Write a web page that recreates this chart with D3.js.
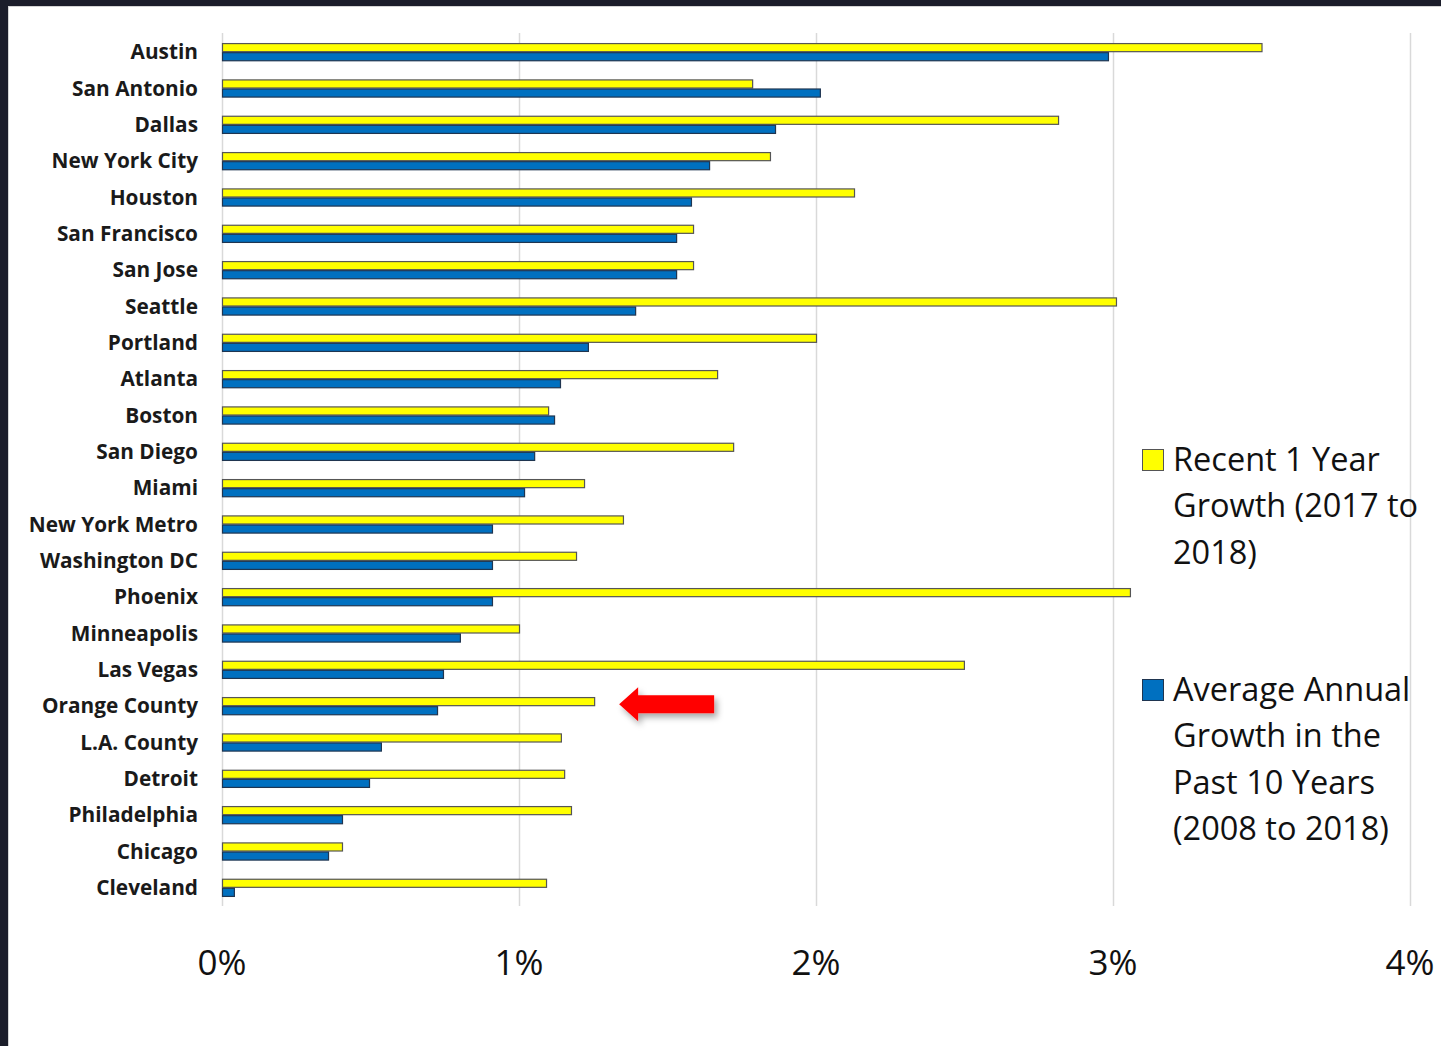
<!DOCTYPE html>
<html><head><meta charset="utf-8">
<script src="https://cdn.jsdelivr.net/npm/d3@7"></script>
<style>html,body{margin:0;padding:0;background:#fff;}svg{display:block;}</style>
</head><body>
<svg id="chart" width="1441" height="1046"></svg>
<script>
const categories = ["Austin","San Antonio","Dallas","New York City","Houston","San Francisco","San Jose","Seattle","Portland","Atlanta","Boston","San Diego","Miami","New York Metro","Washington DC","Phoenix","Minneapolis","Las Vegas","Orange County","L.A. County","Detroit","Philadelphia","Chicago","Cleveland"];
const recentGrowth = [3.50,1.785,2.815,1.845,2.128,1.586,1.586,3.010,2.000,1.667,1.098,1.721,1.219,1.350,1.192,3.057,1.000,2.498,1.253,1.141,1.152,1.175,0.404,1.091];
const avgGrowth = [2.983,2.013,1.862,1.640,1.579,1.529,1.529,1.391,1.232,1.138,1.118,1.051,1.017,0.909,0.909,0.909,0.801,0.744,0.724,0.535,0.495,0.404,0.357,0.040];
const seriesNames = ["Recent 1 Year Growth (2017 to 2018)","Average Annual Growth in the Past 10 Years (2008 to 2018)"];
const legendLines = [["Recent 1 Year","Growth (2017 to","2018)"],["Average Annual","Growth in the","Past 10 Years","(2008 to 2018)"]];
const tickValues = [0,1,2,3,4];
const highlight = "Orange County";

const svg = d3.select("#chart");
// frame
svg.append("rect").attr("x",0).attr("y",0).attr("width",1441).attr("height",1046).attr("fill","#1b1d2a");
svg.append("rect").attr("x",8).attr("y",6).attr("width",1433).attr("height",1040).attr("fill","#d4d4d4");
svg.append("rect").attr("x",9).attr("y",7).attr("width",1432).attr("height",1039).attr("fill","#fff");

const x = d3.scaleLinear().domain([0,4]).range([222,1410]);
const y = d3.scaleBand().domain(categories).range([34,906]).paddingInner(0.5).paddingOuter(0.25);
const sub = d3.scaleBand().domain([0,1]).range([0,y.bandwidth()]);

// gridlines
svg.append("g").selectAll("line").data(tickValues).join("line")
  .attr("x1",d=>x(d)+0.5).attr("x2",d=>x(d)+0.5).attr("y1",33).attr("y2",906)
  .attr("stroke","#d9d9d9").attr("stroke-width",1.5);

// bars
const colors = ["#ffff00","#0070c0"];
const strokes = ["#555555","#1f3550"];
const series = [recentGrowth, avgGrowth];
series.forEach((vals,si)=>{
  svg.append("g").selectAll("rect").data(categories).join("rect")
    .attr("x",x(0)+0.5)
    .attr("y",(c)=>y(c)+sub(si)+0.5)
    .attr("width",(c,i)=>x(vals[i])-x(0))
    .attr("height",sub.bandwidth()-1)
    .attr("fill",colors[si]).attr("stroke",strokes[si]).attr("stroke-width",1.2);
});

// category labels
svg.append("g").selectAll("text").data(categories).join("text")
  .attr("x",198).attr("y",c=>y(c)+y.bandwidth()/2)
  .attr("dy","0.35em").attr("text-anchor","end")
  .attr("font-family","'Open Sans', sans-serif").attr("font-weight",700).attr("font-size",20.8)
  .attr("fill","#1a1a1a").text(c=>c);

// x axis tick labels
svg.append("g").selectAll("text").data(tickValues).join("text")
  .attr("x",d=>x(d)).attr("y",975).attr("text-anchor","middle")
  .attr("font-family","'Open Sans', sans-serif").attr("font-size",35)
  .attr("fill","#111").text(d=>d3.format(".0%")(d/100));

// legend
const legTop = [460, 690];
legendLines.forEach((lines,si)=>{
  svg.append("rect").attr("x",1142.5).attr("y",legTop[si]-10.5).attr("width",21).attr("height",21)
    .attr("fill",colors[si]).attr("stroke",strokes[si]).attr("stroke-width",1);
  const t = svg.append("text").attr("font-family","'Open Sans', sans-serif").attr("font-size",32.5).attr("fill","#111");
  lines.forEach((l,li)=>{
    t.append("tspan").attr("x",1173).attr("y",legTop[si]+11+li*46.3).text(l);
  });
});

// red arrow pointing at highlighted category
const defs = svg.append("defs");
const f = defs.append("filter").attr("id","sh").attr("x","-20%").attr("y","-30%").attr("width","150%").attr("height","180%");
f.append("feDropShadow").attr("dx",3).attr("dy",4).attr("stdDeviation",3).attr("flood-color","#000").attr("flood-opacity",0.35);
const ay = y(highlight)+y.bandwidth()/2 - 2;
const ax = x(recentGrowth[categories.indexOf(highlight)]) + 25;
svg.append("path")
  .attr("d",`M${ax},${ay} L${ax+19},${ay-17} L${ax+19},${ay-9} L${ax+95},${ay-9} L${ax+95},${ay+9} L${ax+19},${ay+9} L${ax+19},${ay+17} Z`)
  .attr("fill","#ff0000").attr("filter","url(#sh)");
</script>
</body></html>
